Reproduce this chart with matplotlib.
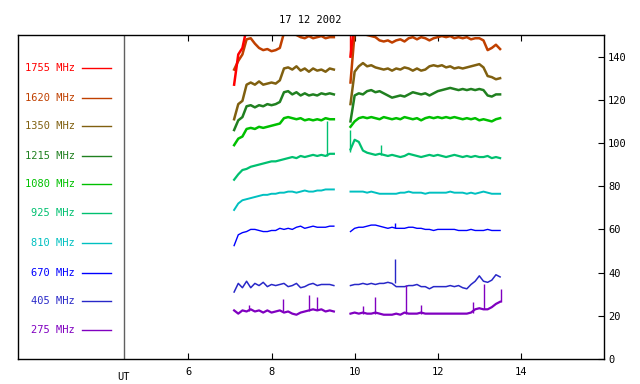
import numpy as np
import matplotlib.pyplot as plt

# time grid (UT hours) of the two observing runs
t_run1 = np.round(np.arange(7.1, 9.51, 0.1), 2)
t_run2 = np.round(np.arange(9.9, 13.51, 0.1), 2)

freqs = ["1755 MHz", "1620 MHz", "1350 MHz", "1215 MHz", "1080 MHz",
         "925 MHz", "810 MHz", "670 MHz", "405 MHz", "275 MHz"]
colors = ["#ff0000", "#c04000", "#806010", "#208020", "#00c000",
          "#00c070", "#00c0c0", "#0000ff", "#2828c8", "#8000c0"]

# flux values, run 1 (7.1..9.5) and run 2 (9.9..13.5)
f1755_a = [127, 141, 144, 153, 156, 155, 154, 155, 156, 155, 154, 155, 158,
           159, 158, 159, 158, 157, 158, 159, 158, 158, 159, 158, 158]
f1755_b = [140, 157, 158, 157, 158, 157, 158, 157, 158, 157, 158, 157, 158,
           157, 158, 157, 158, 157, 158, 157, 158, 157, 158, 157, 158, 157,
           158, 157, 158, 157, 158, 157, 158, 157, 158, 157, 158]

f1620_a = [134, 138, 141, 148, 148.5, 146, 144, 143, 143.5, 142.5, 143, 144,
           151, 151.5, 150.5, 150, 149, 148.5, 149.5, 148.5, 149, 149.5, 148.5,
           149, 149]
f1620_b = [128, 151, 150.5, 150.5, 150, 149.5, 149, 147.5, 147, 147.5, 146.5,
           147.5, 148, 147, 148.5, 149, 148, 149, 148.5, 147.5, 148.5, 149,
           149.5, 149, 149.5, 148.5, 149, 148.5, 149, 148, 148.5, 148.5, 147.5,
           143, 144, 145.5, 143.5]

f1350_a = [111, 118, 119.5, 127, 128, 127, 128.5, 127, 127.5, 128, 127.5, 129,
           134.5, 135, 134, 135.5, 133.5, 134.5, 133, 134.5, 133.5, 134, 133,
           134.5, 134]
f1350_b = [118, 133, 135.5, 137, 135.5, 136, 135, 134.5, 134, 134.5, 133.5,
           134.5, 134, 135, 134.5, 133.5, 134.5, 133.5, 134, 135.5, 136, 135.5,
           136, 135, 135.5, 134.5, 135, 134.5, 135, 135.5, 136, 136.5, 135,
           131, 130.5, 129.5, 130]

f1215_a = [106, 110.5, 112, 117, 117.5, 116.5, 117.5, 117, 118, 117.5, 118,
           119, 123.5, 124, 122.5, 123.5, 122, 123, 122, 122.5, 122, 123,
           122.5, 123, 122.5]
f1215_b = [110, 122, 123, 122.5, 124, 124.5, 123.5, 124, 123, 122, 121, 121.5,
           122, 121.5, 122.5, 123.5, 123, 122.5, 123, 122, 123, 124, 124.5, 125,
           125.5, 125, 124.5, 125, 124.5, 125, 124.5, 125, 124.5, 122, 121.5,
           122.5, 122.5]

f1080_a = [99, 102, 103, 106.5, 107, 106.5, 107.5, 107, 107.5, 108, 108.5,
           109, 111.5, 112, 111.5, 111, 111.5, 110.5, 111, 110.5, 111, 110.5,
           111.5, 111, 111]
f1080_b = [107.5, 110, 111.5, 112, 111.5, 112, 111.5, 111, 112, 111.5, 111,
           111.5, 111, 112, 111.5, 111, 111.5, 110.5, 111.5, 112, 111.5, 112,
           111.5, 112, 111.5, 112, 111.5, 111, 111.5, 111, 111.5, 110.5, 111,
           110.5, 110, 111, 111.5]

f925_a = [83, 85.5, 87.5, 88, 89, 89.5, 90, 90.5, 91, 91.5, 91.5, 92, 92.5,
          93, 93.5, 93, 94, 93.5, 94, 94.5, 94, 94.5, 94, 95, 95]
f925_b = [97, 101.5, 100.5, 96.5, 95.5, 95, 94.5, 95, 94.5, 94, 94.5, 94,
          93.5, 94, 95, 94.5, 94, 93.5, 94, 94.5, 94, 94.5, 94, 93.5, 94, 94.5,
          94, 93.5, 94, 93.5, 94, 93.5, 93.5, 94, 93, 93.5, 93]

f810_a = [69, 72, 73.5, 74, 74.5, 75, 75.5, 76, 76, 76.5, 76.5, 77, 77, 77.5,
          77.5, 77, 77.5, 78, 77.5, 77.5, 78, 78, 78.5, 78.5, 78.5]
f810_b = [77.5, 77.5, 77.5, 77.5, 77, 77.5, 77, 76.5, 76.5, 76.5, 76.5, 76.5,
          77, 77, 77.5, 77, 77, 77, 76.5, 77, 77, 77, 77, 77, 77.5, 77, 77, 77,
          76.5, 77, 76.5, 77, 77.5, 77, 76.5, 76.5, 76.5]

f670_a = [52.5, 57.5, 58.5, 59, 60, 60, 59.5, 59, 59, 59.5, 59.5, 60.5, 60,
          60.5, 60, 61, 61.5, 60.5, 61, 61.5, 61, 61, 61, 61.5, 61.5]
f670_b = [59, 60.5, 61, 61, 61.5, 62, 62, 61.5, 61, 60.5, 61, 60.5, 60.5,
          60.5, 61, 61, 60.5, 60.5, 60, 60, 59.5, 60, 60, 60, 60, 60, 59.5,
          59.5, 59.5, 60, 59.5, 59.5, 59.5, 60, 59.5, 59.5, 59.5]

f405_a = [31, 35, 33, 36, 33, 35, 34, 35.5, 33.5, 34.5, 34, 34.5, 35, 33.5,
          34, 35, 33, 33.5, 34.5, 35, 34, 34.5, 34.5, 34.5, 34]
f405_b = [34, 34.5, 34.5, 35, 34.5, 35, 34.5, 35, 35, 35.5, 35, 33.5, 33.5,
          33.5, 34, 34, 34.5, 33.5, 33.5, 32.5, 33.5, 33.5, 33.5, 33.5, 34,
          33.5, 34, 33, 32.5, 34.5, 36, 38.5, 36, 35.5, 36.5, 39, 38]

f275_a = [22.5, 21, 22.5, 22, 23, 22, 22.5, 21.5, 22.5, 21.5, 22, 22.5, 21.5,
          22, 21, 20.5, 21.5, 22, 22.5, 23, 22.5, 23, 22, 22.5, 22]
f275_b = [21, 21.5, 21, 21.5, 21, 21, 21.5, 21, 20.5, 20.5, 20.5, 21, 20.5,
          21.5, 21, 21, 21, 21.5, 21, 21, 21, 21, 21, 21, 21, 21, 21, 21, 21,
          21.5, 23, 23.5, 23, 23, 24, 25.5, 26.5]

run1 = [f1755_a, f1620_a, f1350_a, f1215_a, f1080_a,
        f925_a, f810_a, f670_a, f405_a, f275_a]
run2 = [f1755_b, f1620_b, f1350_b, f1215_b, f1080_b,
        f925_b, f810_b, f670_b, f405_b, f275_b]

# short spikes: (channel index, time, base, top)
spikes = [(0, 9.9, 140, 155),
          (5, 9.34, 94, 110), (5, 9.9, 96, 106), (5, 10.63, 94.5, 99),
          (7, 10.96, 60.5, 63),
          (8, 10.96, 35, 46.4),
          (9, 7.45, 22, 25), (9, 8.28, 22, 28), (9, 8.9, 22, 29.5),
          (9, 9.1, 22.5, 28.5), (9, 10.2, 21, 24.5), (9, 10.49, 21, 28.8),
          (9, 11.23, 21, 34.3), (9, 11.6, 21, 25), (9, 12.85, 21.5, 26.4),
          (9, 13.11, 23, 34.8), (9, 13.51, 26.5, 32.4)]

plt.rcParams['font.family'] = 'DejaVu Sans Mono'

fig = plt.figure(figsize=(6.4, 3.84), dpi=100)
ax = fig.add_axes([18 / 640, 25 / 384, 586 / 640, 324 / 384])

# noisy channels get a thicker stroke to mimic the jitter band
widths = [1.8, 1.8, 1.8, 1.8, 1.8, 1.6, 1.4, 1.0, 1.1, 1.6]
for i in range(len(freqs) - 1, -1, -1):
    ax.plot(t_run1, run1[i], color=colors[i], lw=widths[i])
    ax.plot(t_run2, run2[i], color=colors[i], lw=widths[i])

for ch, t, lo, hi in spikes:
    ax.vlines(t, lo, hi, color=colors[ch], lw=1.0)

ax.axvline(4.45, color='#606060', lw=1.0)

ax.set_xlim(1.9, 16)
ax.set_ylim(0, 150)
ax.set_xticks([6, 8, 10, 12, 14])
ax.set_yticks(range(0, 141, 20))
ax.tick_params(axis='x', direction='in', length=4, top=True, labelsize=7.5, pad=6)
ax.tick_params(axis='y', direction='in', length=4, left=False, right=True,
               labelleft=False, labelright=True, labelsize=7.5, pad=3)
for s in ax.spines.values():
    s.set_linewidth(1.0)

ax.text(4.45, -0.04, "UT", transform=ax.get_xaxis_transform(),
        ha='center', va='top', fontsize=7.5)

fig.text(310 / 640, 1 - 20 / 384, "17 12 2002", ha='center', va='center',
         fontsize=7.5)

# channel key on the left
legend_y = [67.7, 97.7, 126.3, 155.7, 184.3, 213.3, 242.7, 272.7, 301.3, 330]
for name, c, y in zip(freqs, colors, legend_y):
    fy = 1 - y / 384
    fig.text(75 / 640, fy, name, color=c, ha='right', va='center', fontsize=7.5)
    fig.add_artist(plt.Line2D([82 / 640, 111 / 640], [fy, fy], color=c, lw=1.0))

fig.savefig("out.png", dpi=100)
